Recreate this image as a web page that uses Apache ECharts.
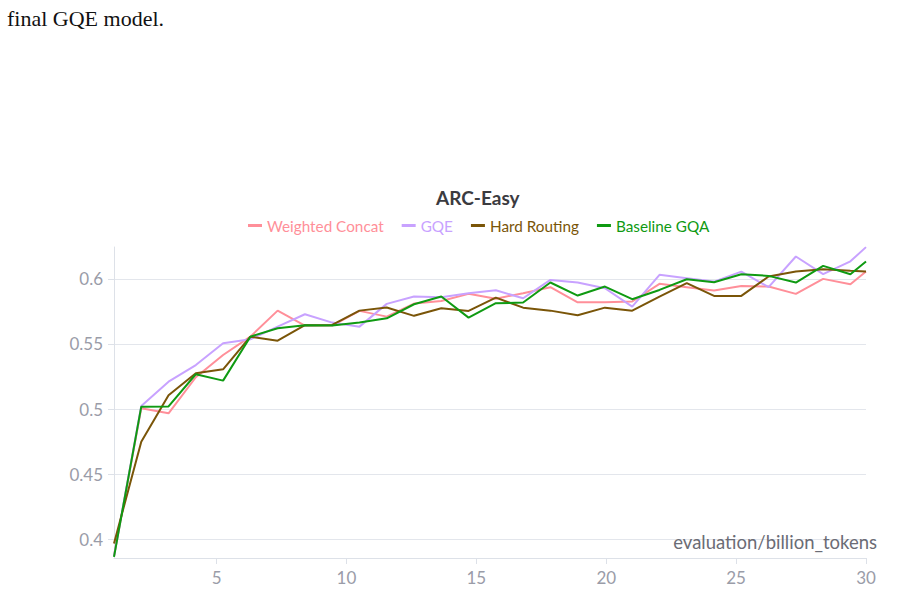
<!DOCTYPE html>
<html>
<head>
<meta charset="utf-8">
<script src="https://cdn.jsdelivr.net/npm/echarts@6/dist/echarts.min.js"></script>
<style>
html,body{margin:0;padding:0;background:#fff;}
#chart{width:900px;height:594px;}
</style>
</head>
<body>
<div id="chart"></div>
<script>
const tokens = [1.05, 2.1, 3.15, 4.2, 5.25, 6.3, 7.35, 8.4, 9.45, 10.5, 11.55, 12.6, 13.65, 14.7, 15.75, 16.8, 17.85, 18.9, 19.95, 21, 22.05, 23.1, 24.15, 25.2, 26.25, 27.3, 28.35, 29.4, 30];
const weightedConcat = [0.387, 0.5005, 0.4967, 0.5244, 0.5415, 0.5556, 0.5756, 0.5641, 0.5641, 0.5754, 0.571, 0.581, 0.583, 0.5885, 0.5848, 0.589, 0.5936, 0.582, 0.582, 0.5826, 0.5962, 0.5936, 0.591, 0.5946, 0.5941, 0.5885, 0.600, 0.5959, 0.6056];
const gqe = [0.387, 0.5023, 0.521, 0.5338, 0.5505, 0.5536, 0.5633, 0.5728, 0.5664, 0.5633, 0.5808, 0.5864, 0.5859, 0.589, 0.5912, 0.5851, 0.5992, 0.5972, 0.5928, 0.5787, 0.6031, 0.6005, 0.5979, 0.6056, 0.5936, 0.6172, 0.6036, 0.6135, 0.6244];
const hardRouting = [0.3967, 0.4749, 0.5105, 0.5275, 0.5305, 0.5556, 0.5525, 0.5644, 0.5646, 0.5756, 0.578, 0.5716, 0.5774, 0.5754, 0.5856, 0.5779, 0.5756, 0.572, 0.5779, 0.5756, 0.5864, 0.5967, 0.5869, 0.5869, 0.6018, 0.6056, 0.6074, 0.6062, 0.6056];
const baselineGQA = [0.3864, 0.5018, 0.502, 0.5267, 0.5218, 0.5556, 0.5621, 0.5644, 0.5641, 0.5664, 0.5697, 0.5805, 0.5864, 0.5702, 0.5813, 0.5818, 0.5972, 0.5872, 0.5941, 0.5844, 0.5915, 0.5997, 0.5974, 0.6036, 0.6023, 0.5972, 0.610, 0.6036, 0.6133];
const seriesNames = ['Weighted Concat', 'GQE', 'Hard Routing', 'Baseline GQA'];
const seriesData = [weightedConcat, gqe, hardRouting, baselineGQA];
const colors = ['#ff8f99', '#c8a2ff', '#7a5508', '#0f9a12'];
const chartTitle = 'ARC-Easy';
const xName = 'evaluation/billion_tokens';
const captionText = 'final GQE model.';

const FONT = 'Lato, "Noto Sans", sans-serif';
const chart = echarts.init(document.getElementById('chart'), null, {renderer: 'svg'});
const pair = (xs, ys) => xs.map((x, i) => [x, ys[i]]);

chart.setOption({
  animation: false,
  backgroundColor: '#fff',
  textStyle: {fontFamily: FONT},
  graphic: [
    {type: 'text', left: 7, top: 7, style: {text: captionText, font: '22px "Liberation Serif", "DejaVu Serif", serif', fill: '#111'}}
  ],
  title: {
    text: chartTitle, left: 431, top: 183,
    textStyle: {fontFamily: FONT, fontSize: 19, fontWeight: 'bold', color: '#3b3b3f'}
  },
  legend: {
    left: 243, top: 213, itemWidth: 14, itemHeight: 3, itemGap: 18, icon: 'rect',
    textStyle: {fontFamily: FONT, fontSize: 15.3},
    data: seriesNames.map((n, i) => ({name: n, textStyle: {color: colors[i]}}))
  },
  grid: {left: 114, right: 34, top: 247, bottom: 36, containLabel: false},
  xAxis: {
    type: 'value', min: 1.05, max: 30,
    name: xName, nameLocation: 'end', nameGap: 0,
    nameTextStyle: {fontFamily: FONT, fontSize: 18.5, color: '#6b6c75', align: 'right', verticalAlign: 'bottom', padding: [0, -11, 7, 0]},
    axisLine: {lineStyle: {color: '#dde1e8', width: 1}},
    axisTick: {show: true, length: 6, lineStyle: {color: '#dde1e8'}},
    axisLabel: {showMinLabel: false, fontFamily: FONT, fontSize: 17, color: '#9a9ca8', margin: 11},
    splitLine: {show: false}
  },
  yAxis: {
    type: 'value', min: 0.3855, max: 0.6245,
    axisLine: {show: true, lineStyle: {color: '#dde1e8', width: 1}},
    axisTick: {show: true, length: 6, lineStyle: {color: '#dde1e8'}},
    axisLabel: {showMinLabel: false, showMaxLabel: false, fontFamily: FONT, fontSize: 17, color: '#9a9ca8', margin: 11},
    splitLine: {show: true, showMinLine: false, showMaxLine: false, lineStyle: {color: '#e3e6ec', width: 1}}
  },
  series: seriesNames.map((n, i) => ({
    name: n, type: 'line', data: pair(tokens, seriesData[i]),
    showSymbol: false, symbol: 'none',
    lineStyle: {color: colors[i], width: 2},
    itemStyle: {color: colors[i]},
    z: 2 + i
  }))
});
</script>
</body>
</html>
